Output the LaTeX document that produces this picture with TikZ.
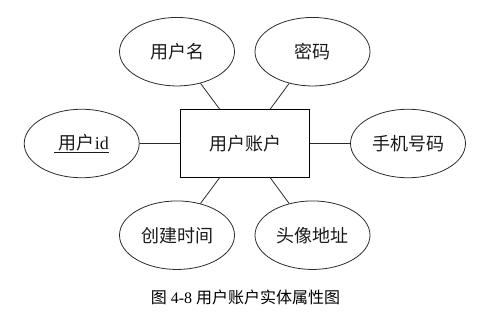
\documentclass[tikz,border=0pt]{standalone}
\usepackage{fontspec}
\setmainfont{Liberation Serif}
\newfontfamily\cjk{Noto Sans CJK SC}
\usepackage{tikz}
\usetikzlibrary{shapes.geometric}
\definecolor{cInk}{HTML}{1A1A1A}
\definecolor{cLine}{HTML}{2B2B2B}
\tikzset{
  attr/.style={draw=cLine,ellipse,line width=0.8pt,minimum width=115pt,minimum height=68.5pt,inner sep=0pt,text=cInk,font=\fontsize{18}{20}\selectfont},
  ent/.style={draw=black,rectangle,line width=0.9pt,minimum width=129.5pt,minimum height=67.5pt,inner sep=0pt,text=cInk,font=\fontsize{18}{20}\selectfont},
  lnk/.style={draw=cLine,line width=0.8pt},
  captxt/.style={font=\fontsize{16}{18}\selectfont,text=black},
}
\begin{document}
\begin{tikzpicture}[x=1pt,y=-1pt]
  \useasboundingbox (0,0) rectangle (498,313);
  \node[ent] (acc) at (245,143.4) {\cjk 用户账户};
  \node[attr] (uname) at (177,51.7) {\cjk 用户名};
  \node[attr] (pwd) at (312.5,51.7) {\cjk 密码};
  \node[attr] (uid) at (81.7,143.5) {\underline{\ {\cjk 用户}id}};
  \node[attr] (phone) at (408,143.5) {\cjk 手机号码};
  \node[attr] (ctime) at (177,235.2) {\cjk 创建时间};
  \node[attr] (avatar) at (312.5,235.2) {\cjk 头像地址};
  \foreach \a in {uname,pwd,uid,phone,ctime,avatar}
    \draw[lnk] (\a) -- (acc);
  \node[captxt] (title) at (245.5,297.5) {{\cjk 图} 4-8 {\cjk 用户账户实体属性图}};
\end{tikzpicture}
\end{document}
